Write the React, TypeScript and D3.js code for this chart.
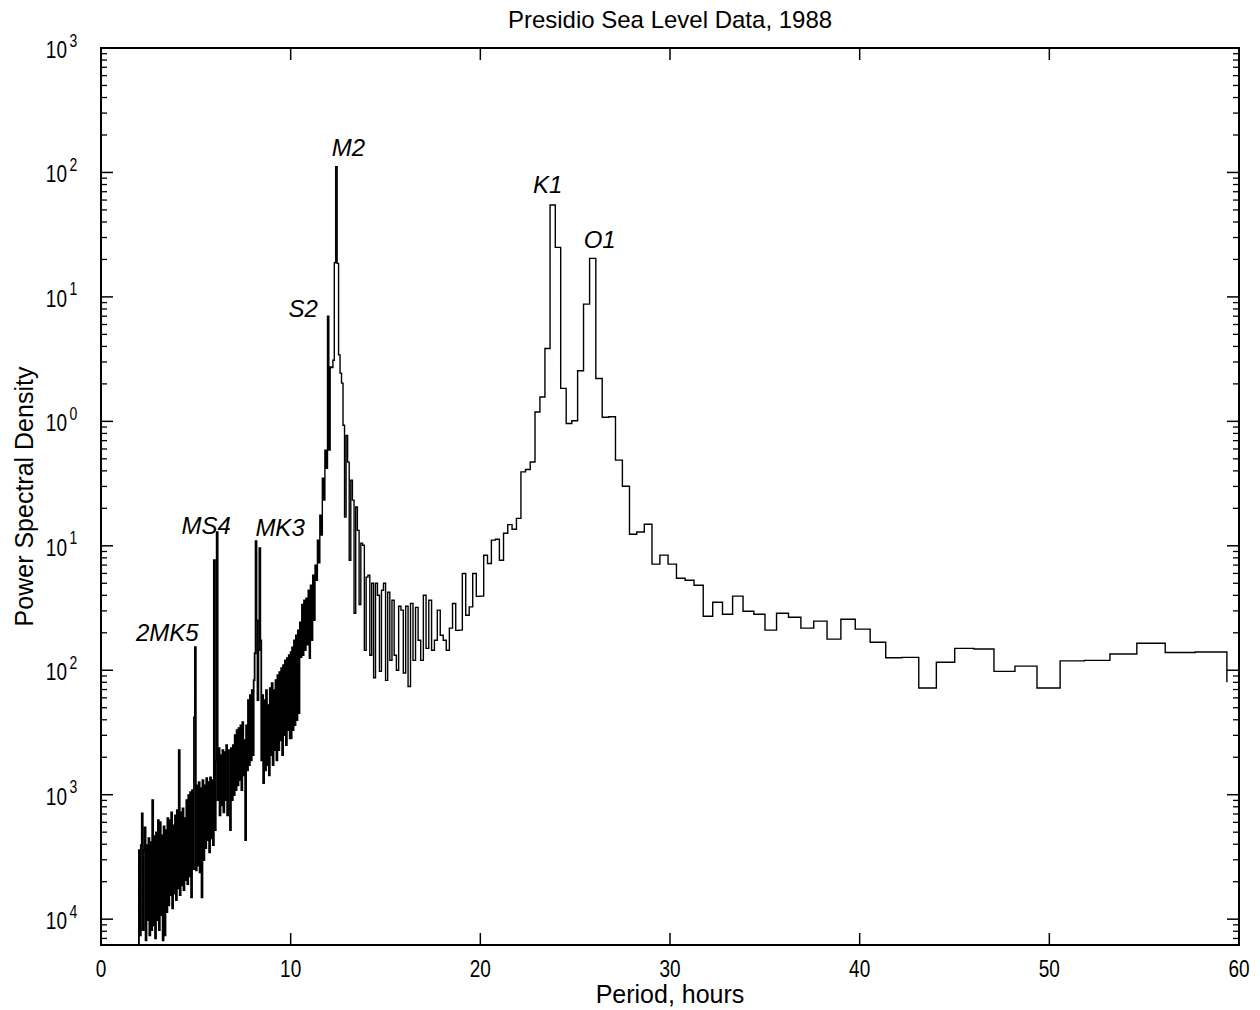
import React from 'react';
import * as d3 from 'd3';

// ---------- data ----------
const chartTitle = 'Presidio Sea Level Data, 1988';
const xAxisTitle = 'Period, hours';
const yAxisTitle = 'Power Spectral Density';

// Welch segment length (hours): spectral bin k sits at frequency k / segmentHours
const segmentHours = 2048;
const firstBin = 34;
// PSD per spectral bin, k = 34 ... 204 (periods ~60 h down to ~10 h)
const binPSD = [
  0.008, 0.014, 0.0139, 0.0165, 0.0135, 0.012, 0.0119, 0.0072, 0.0108, 0.0098,
  0.0148, 0.015, 0.0116, 0.0072, 0.0127, 0.0126, 0.0168, 0.0214, 0.0257, 0.0178,
  0.0248, 0.0218, 0.0267, 0.0287, 0.021, 0.0282, 0.0298, 0.0394, 0.0282, 0.0352,
  0.0272, 0.0482, 0.0529, 0.0549, 0.0712, 0.0841, 0.0712, 0.149, 0.129, 0.124,
  0.301, 0.488, 1.09, 1.08, 2.21, 20.4, 8.75, 2.55, 1.01, 0.96,
  1.84, 25.0, 54.7, 3.85, 1.57, 1.19, 0.472, 0.41, 0.393, 0.166,
  0.136, 0.148, 0.126, 0.0766, 0.113, 0.111, 0.0721, 0.084, 0.0394, 0.0392,
  0.0599, 0.0323, 0.0277, 0.0599, 0.021, 0.0209, 0.0344, 0.0218, 0.0145, 0.0174,
  0.0191, 0.0304, 0.0174, 0.0145, 0.0365, 0.015, 0.0401, 0.012, 0.0174, 0.032,
  0.012, 0.0345, 0.0074, 0.0327, 0.0095, 0.0304, 0.0327, 0.01, 0.0132, 0.0365,
  0.012, 0.0424, 0.0083, 0.05, 0.0439, 0.0098, 0.0401, 0.05, 0.0087, 0.05,
  0.0132, 0.0581, 0.056, 0.0145, 0.101, 0.105, 0.0338, 0.133, 0.205, 0.0287,
  0.233, 0.337, 0.0766, 0.47, 0.77, 0.17, 0.93, 2.03, 2.44, 3.42,
  18.6, 111, 18.8, 3.1, 2.7, 2.73, 0.587, 7.0, 0.42, 0.587,
  0.233, 0.35, 0.122, 0.176, 0.073, 0.111, 0.0529, 0.07, 0.0252, 0.0581,
  0.0174, 0.0482, 0.0125, 0.0439, 0.016, 0.038, 0.0145, 0.0365, 0.0132, 0.0338,
  0.0127, 0.0243, 0.00451, 0.021, 0.00397, 0.0191, 0.00361, 0.0174, 0.0033, 0.0153,
  0.00284,
];

// Short-period part (1.95 h ... 10 h), too dense to resolve bin by bin:
// PSD read at every 0.05 h of period
const densePeriodStart = 1.95;
const densePeriodStep = 0.05;
const densePSD = [
  6.41e-5, 3.58e-4, 7.41e-5, 3.93e-4, 7.08e-4, 8.15e-5, 3.58e-4, 5.47e-4, 6.77e-5, 3.93e-4,
  9.81e-5, 4.47e-4, 7.41e-5, 4.15e-4, 8.15e-5, 9.04e-4, 8.93e-5, 4.64e-4, 7.02e-5, 4.99e-4,
  9.81e-5, 6.24e-4, 8.15e-5, 6.01e-4, 1.08e-4, 4.72e-4, 6.77e-5, 5.57e-4, 7.41e-5, 5.19e-4,
  1.14e-4, 6.47e-4, 1.29e-4, 6.24e-4, 1.56e-4, 7.21e-4, 1.22e-4, 5.68e-4, 1.61e-4, 6.83e-4,
  1.42e-4, 7.51e-4, 1.77e-4, 2.28e-3, 1.56e-4, 7.21e-4, 1.87e-4, 7.78e-4, 1.71e-4, 6.47e-4,
  2.06e-4, 9.04e-4, 1.91e-4, 9.91e-4, 2.21e-4, 1.05e-3, 1.5e-4, 1.09e-3, 2.52e-4, 4.19e-3,
  1.53e-2, 2.47e-4, 1.19e-3, 2.7e-4, 1.26e-3, 2.38e-4, 1.13e-3, 1.5e-4, 1.31e-3, 2.98e-4,
  1.19e-3, 3.72e-4, 1.36e-3, 4.31e-4, 1.26e-3, 3.45e-4, 1.38e-3, 4.47e-4, 1.31e-3, 3.93e-4,
  7.66e-2, 5.19e-4, 1.89e-3, 0.129, 9.04e-4, 2.37e-3, 6.83e-4, 2.08e-3, 8.22e-4, 2.28e-3,
  7.21e-4, 2.2e-3, 9.04e-4, 2.5e-3, 6.83e-4, 2.28e-3, 7.78e-4, 5.19e-4, 2.37e-3, 9.04e-4,
  2.5e-3, 9.91e-4, 3.01e-3, 1.09e-3, 3.3e-3, 1.19e-3, 3.42e-3, 1.31e-3, 3.61e-3, 1.09e-3,
  3.82e-3, 1.43e-3, 2.74e-3, 4.31e-4, 3.61e-3, 1.57e-3, 5.75e-3, 1.73e-3, 6.3e-3, 1.89e-3,
  6.91e-3, 2.08e-3, 8.32e-3, 1.37e-2, 0.109, 2.52e-2, 5.75e-3, 1.45e-2, 9.57e-2, 1.74e-2,
  1.89e-3, 6.3e-3, 1.24e-3, 5.75e-3, 1.57e-3, 6.91e-3, 1.73e-3, 5.24e-3, 1.43e-3, 7.17e-3,
  2.08e-3, 7.87e-3, 1.73e-3, 6.91e-3, 2.28e-3, 8.32e-3, 1.89e-3, 9.12e-3, 2.28e-3, 9.64e-3,
  2.74e-3, 1.04e-2, 2.08e-3, 1.1e-2, 3.01e-3, 1.2e-2, 2.5e-3, 1.25e-2, 3.3e-3, 1.32e-2,
  2.84e-3, 1.4e-2,
];

const xTicks = [0, 10, 20, 30, 40, 50, 60];
const yDecades = [3, 2, 1, 0, -1, -2, -3, -4];

// tidal constituent labels: name, period of the peak (h), PSD at the peak
const peakNames = ['2MK5', 'MS4', 'MK3', 'S2', 'M2', 'K1', 'O1'];
const peakPeriods = [4.975, 6.125, 8.175, 2048 / 171, 2048 / 165, 2048 / 86, 2048 / 79];
const peakValues = [0.0153, 0.129, 0.109, 7.0, 111, 54.7, 20.4];

// ---------- layout ----------
const W = 1260;
const H = 1010;
const PL = 101, PR = 1239, PT = 48, PB = 945;
const FONT = '"Liberation Sans", Arial, Helvetica, sans-serif';
const TICK_STRETCH = 1.25;
const labelOffsets: Record<string, [number, number]> = {
  '2MK5': [-28, -6], MS4: [-11, 2], MK3: [24, -5], S2: [-25, 1], M2: [12, -11], K1: [-5, -12], O1: [7, -10],
};

type Pt = { p: number; v: number };

function denseSeries(): Pt[] {
  return densePSD.map((v, i) => ({ p: densePeriodStart + i * densePeriodStep, v }));
}

function binSeries(): Pt[] {
  const pts: Pt[] = [];
  const lastBin = firstBin + binPSD.length - 1;
  // join onto the end of the dense part
  pts.push({ p: densePeriodStart + (densePSD.length - 1) * densePeriodStep, v: densePSD[densePSD.length - 1] });
  for (let k = lastBin; k > firstBin; k--) {
    pts.push({ p: segmentHours / (k + 0.5), v: binPSD[k - firstBin] });
  }
  pts.push({ p: segmentHours / (firstBin + 0.5), v: binPSD[0] });
  return pts;
}

function SText(props: {
  x: number; y: number; size: number; anchor?: string; italic?: boolean; rotate?: number; sy?: number;
  children: React.ReactNode;
}) {
  const { x, y, size, anchor = 'middle', italic = false, rotate = 0, sy = 1, children } = props;
  return (
    <text
      transform={`translate(${x},${y}) scale(1,${sy})${rotate ? ` rotate(${rotate})` : ''}`}
      fontSize={size}
      textAnchor={anchor}
      fontStyle={italic ? 'italic' : 'normal'}
      fontFamily={FONT}
      fill="#000"
    >
      {children}
    </text>
  );
}

export default function App() {
  const x = d3.scaleLinear().domain([0, 60]).range([PL, PR]);
  const y = d3.scaleLog().domain([6.2e-5, 1000]).range([PB, PT]);
  const line = d3
    .line<Pt>()
    .x((d) => x(d.p))
    .y((d) => y(d.v))
    .curve(d3.curveStepAfter);

  const dense = denseSeries();
  const dense2 = dense.concat([{ p: segmentHours / (firstBin + binPSD.length - 0.5), v: densePSD[densePSD.length - 1] }]);
  const bins = binSeries();

  const minor: number[] = [];
  for (let n = -5; n <= 2; n++) {
    for (let m = 2; m <= 9; m++) {
      const v = m * Math.pow(10, n);
      if (v >= 6.2e-5 && v <= 1000) minor.push(v);
    }
  }

  return (
    <svg
      width={W}
      height={H}
      style={{ position: 'absolute', left: 0, top: 0, background: '#fff' }}
    >
      <rect x={0} y={0} width={W} height={H} fill="#fff" />
      {/* data */}
      <path d={line(dense2) || ''} fill="none" stroke="#000" strokeWidth={1.8} strokeLinejoin="miter" />
      <path d={line(bins) || ''} fill="none" stroke="#000" strokeWidth={1.4} strokeLinejoin="miter" />
      {/* frame */}
      <rect x={PL} y={PT} width={PR - PL} height={PB - PT} fill="none" stroke="#000" strokeWidth={2} />
      {/* y ticks */}
      {yDecades.map((n) => {
        const yy = y(Math.pow(10, n));
        return (
          <g key={'yd' + n}>
            <line x1={PL} x2={PL + 12} y1={yy} y2={yy} stroke="#000" strokeWidth={1.5} />
            <line x1={PR} x2={PR - 12} y1={yy} y2={yy} stroke="#000" strokeWidth={1.5} />
            <SText x={67} y={yy + 10} size={19} anchor="end" sy={TICK_STRETCH}>10</SText>
            <SText x={69.5} y={yy - 1.5} size={14} anchor="start" sy={TICK_STRETCH}>{String(Math.abs(n))}</SText>
          </g>
        );
      })}
      {minor.map((v, i) => {
        const yy = y(v);
        return (
          <g key={'ym' + i}>
            <line x1={PL} x2={PL + 6} y1={yy} y2={yy} stroke="#000" strokeWidth={1.3} />
            <line x1={PR} x2={PR - 6} y1={yy} y2={yy} stroke="#000" strokeWidth={1.3} />
          </g>
        );
      })}
      {/* x ticks */}
      {xTicks.map((t) => {
        const xx = x(t);
        return (
          <g key={'xt' + t}>
            <line x1={xx} x2={xx} y1={PB} y2={PB - 12} stroke="#000" strokeWidth={1.5} />
            <line x1={xx} x2={xx} y1={PT} y2={PT + 12} stroke="#000" strokeWidth={1.5} />
            <SText x={xx} y={977} size={19} sy={TICK_STRETCH}>{String(t)}</SText>
          </g>
        );
      })}
      {/* peak labels */}
      {peakNames.map((name, i) => {
        const off = labelOffsets[name];
        return (
          <SText key={name} x={x(peakPeriods[i]) + off[0]} y={y(peakValues[i]) + off[1]} size={24} italic>
            {name}
          </SText>
        );
      })}
      {/* titles */}
      <SText x={(PL + PR) / 2} y={28} size={24}>{chartTitle}</SText>
      <SText x={(PL + PR) / 2} y={1003} size={25}>{xAxisTitle}</SText>
      <SText x={33} y={(PT + PB) / 2} size={25} rotate={-90}>{yAxisTitle}</SText>
    </svg>
  );
}
